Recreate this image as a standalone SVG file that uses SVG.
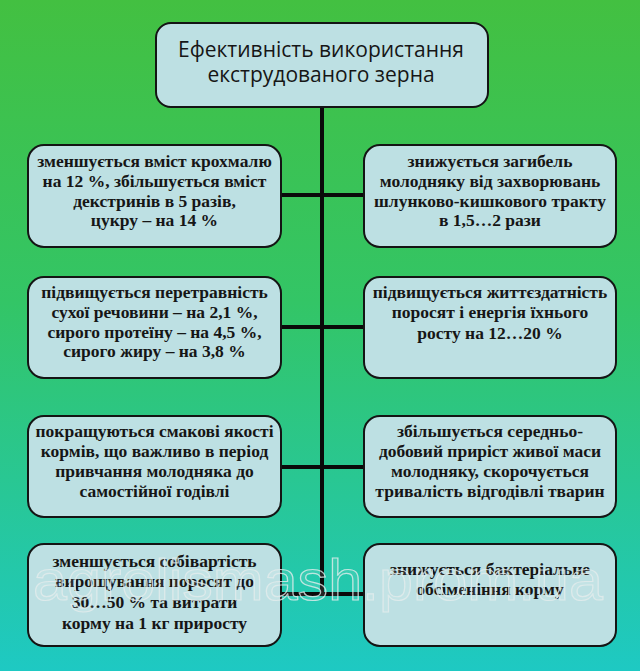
<svg xmlns="http://www.w3.org/2000/svg" width="640" height="671" viewBox="0 0 640 671">
<defs>
<linearGradient id="bg" x1="0" y1="0" x2="0" y2="1">
<stop offset="0" stop-color="#43c041"/>
<stop offset="0.45" stop-color="#33c566"/>
<stop offset="1" stop-color="#1ec9c3"/>
</linearGradient>
</defs>
<style>
.box{fill:#bde0e3;stroke:#141414;stroke-width:2}
.t{font-family:'Liberation Serif','DejaVu Serif',serif;font-weight:700;font-size:17.5px;fill:#161616;text-anchor:middle}
.h{font-family:'Open Sans','Noto Sans',sans-serif;font-size:21px;fill:#161616;text-anchor:middle}
.c{stroke:#0a0a0a;stroke-width:4;fill:none}
.wm{font-family:'Liberation Sans',Arial,sans-serif;font-size:58px;fill:#ffffff;fill-opacity:0.1;stroke:#e4ecec;stroke-width:1.2;stroke-opacity:0.8}
</style>
<rect width="640" height="671" fill="url(#bg)"/>
<g id="connectors">
<path class="c" d="M322 107V595"/>
<path class="c" d="M281 195H364"/>
<path class="c" d="M281 327H364"/>
<path class="c" d="M281 467H364"/>
<path class="c" d="M281 594H364"/>
</g>
<g id="root">
<rect class="box" x="156" y="23" width="332" height="84" rx="15"/>
<text class="h" x="321" y="57">Ефективність використання</text>
<text class="h" x="321" y="82">екструдованого зерна</text>
</g>
<g id="n1">
<rect class="box" x="28" y="145" width="253" height="102" rx="16"/>
<text class="t" x="154.5" y="167">зменшується вміст крохмалю</text>
<text class="t" x="154.5" y="187">на 12 %, збільшується вміст</text>
<text class="t" x="154.5" y="207">декстринів в 5 разів,</text>
<text class="t" x="154.5" y="226">цукру – на 14 %</text>
</g>
<g id="n2">
<rect class="box" x="364" y="145" width="252" height="102" rx="16"/>
<text class="t" x="490" y="167">знижується загибель</text>
<text class="t" x="490" y="187">молодняку від захворювань</text>
<text class="t" x="490" y="207">шлунково-кишкового тракту</text>
<text class="t" x="490" y="226">в 1,5…2 рази</text>
</g>
<g id="n3">
<rect class="box" x="28" y="277" width="253" height="101" rx="16"/>
<text class="t" x="154.5" y="298">підвищується перетравність</text>
<text class="t" x="154.5" y="318">сухої речовини – на 2,1 %,</text>
<text class="t" x="154.5" y="338">сирого протеїну – на 4,5 %,</text>
<text class="t" x="154.5" y="357">сирого жиру – на 3,8 %</text>
</g>
<g id="n4">
<rect class="box" x="364" y="277" width="252" height="101" rx="16"/>
<text class="t" x="490" y="298">підвищується життєздатність</text>
<text class="t" x="490" y="318">поросят і енергія їхнього</text>
<text class="t" x="490" y="339">росту на 12…20 %</text>
</g>
<g id="n5">
<rect class="box" x="28" y="416" width="253" height="101" rx="16"/>
<text class="t" x="154.5" y="437">покращуються смакові якості</text>
<text class="t" x="154.5" y="457">кормів, що важливо в період</text>
<text class="t" x="154.5" y="477">привчання молодняка до</text>
<text class="t" x="154.5" y="497">самостійної годівлі</text>
</g>
<g id="n6">
<rect class="box" x="364" y="416" width="252" height="101" rx="16"/>
<text class="t" x="490" y="437">збільшується середньо-</text>
<text class="t" x="490" y="457">добовий приріст живої маси</text>
<text class="t" x="490" y="477">молодняку, скорочується</text>
<text class="t" x="490" y="497">тривалість відгодівлі тварин</text>
</g>
<g id="n7">
<rect class="box" x="28" y="544" width="253" height="102" rx="16"/>
<text class="t" x="154.5" y="567">зменшується собівартість</text>
<text class="t" x="154.5" y="587">вирощування поросят до</text>
<text class="t" x="154.5" y="608">30…50 % та витрати</text>
<text class="t" x="154.5" y="629">корму на 1 кг приросту</text>
</g>
<g id="n8">
<rect class="box" x="364" y="544" width="252" height="102" rx="16"/>
<text class="t" x="490" y="575">знижується бактеріальне</text>
<text class="t" x="490" y="595">обсіменіння корму</text>
</g>
<text class="wm" x="33" y="600" textLength="570" lengthAdjust="spacingAndGlyphs">agrolismash.prom.ua</text>
</svg>
